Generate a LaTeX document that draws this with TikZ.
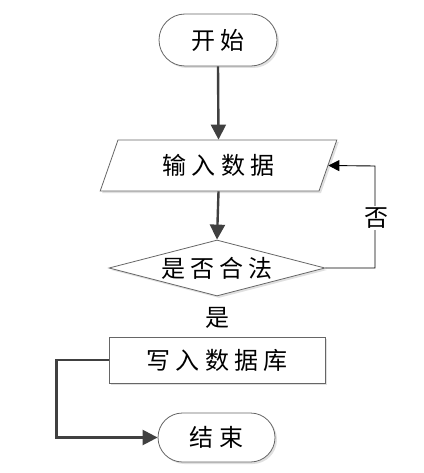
\documentclass[tikz,border=0pt]{standalone}
\usepackage{fontspec}
\newfontfamily\cjk[LetterSpace=22]{Noto Sans CJK SC}
\usetikzlibrary{shapes.geometric,shapes.misc,arrows.meta,shadows}

\begin{document}
\begin{tikzpicture}[x=1pt, y=-1pt,
  every node/.style={font=\cjk\fontsize{24}{24}\selectfont, inner sep=0pt},
  kasten/.style={draw=black!60, line width=0.8pt, fill=white,
    drop shadow={shadow xshift=2pt, shadow yshift=-2pt, fill=black!12, opacity=1}},
  terminal/.style={kasten, rounded rectangle, minimum height=52pt},
  eingabe/.style={kasten, trapezium, trapezium left angle=66, trapezium right angle=114,
    trapezium stretches=true, minimum width=237pt, minimum height=51pt},
  pruefung/.style={kasten, diamond, aspect=3.8, minimum width=216pt, minimum height=56pt},
  schritt/.style={kasten, rectangle, minimum width=216pt, minimum height=46pt},
  pfeil/.style={draw=black!75, line width=2.4pt, -{Triangle[length=15pt, width=15pt]}},
  rueck/.style={draw=black, line width=0.9pt, -{Triangle[length=11pt, width=11pt]}}]
  \useasboundingbox (0,0) rectangle (423,473);
  % Knoten
  \node[terminal, minimum width=118pt] (start)     at (218,40)    {开始};
  \node[eingabe]                       (eingabe)   at (218.5,165.5) {输入数据};
  \node[pruefung]                      (test)      at (217,268)   {是否合法};
  \node[schritt]                       (schreiben) at (217,360)   {写入数据库};
  \node[terminal, minimum width=117pt, minimum height=49pt] (ende) at (216.5,437.5) {结束};
  \coordinate (knick) at (375,166);
  % Verbindungen
  \draw[pfeil] (start.south) -- (eingabe.north);
  \draw[pfeil] (eingabe.south) -- (test.north);
  \draw[rueck] (test.east) -| (knick) -- (eingabe.east);
  \draw[pfeil] (schreiben.west) -- ++(-52,0) |- (ende.west);
  % Beschriftung
  \node[fill=white, inner sep=2pt] (nein) at (376,218) {否};
  \node (ja) at (217,318) {是};
\end{tikzpicture}
\end{document}
